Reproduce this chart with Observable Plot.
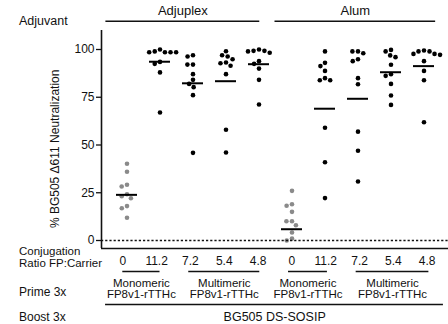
<!DOCTYPE html>
<html><head><meta charset="utf-8">
<script src="https://cdn.jsdelivr.net/npm/d3@7"></script>
<script src="https://cdn.jsdelivr.net/npm/@observablehq/plot@0.6"></script>
<style>
html,body{margin:0;padding:0;background:#fff;}
#chart{position:relative;width:448px;height:324px;}
#chart > svg{position:absolute;left:0;top:0;}
</style></head><body><div id="chart"></div>
<script>
// ---- data ----
const adjuvants = ["Adjuplex", "Alum"];
const ratios = ["0", "11.2", "7.2", "5.4", "4.8"];
const primeLabels = ["Monomeric", "Multimeric", "Monomeric", "Multimeric"];
const carrierLabel = "FP8v1-rTTHc";
const boostLabel = "BG505 DS-SOSIP";

const adjuplex_0   = [40.2, 36.0, 29.2, 28.3, 24.2, 23.2, 22.1, 18.0, 16.9, 11.9];
const adjuplex_112 = [100, 99, 98.6, 98.6, 98.6, 98.6, 93.5, 92.5, 88, 67];
const adjuplex_72  = [97, 96.3, 92.1, 92.1, 87.1, 84.1, 82.0, 80.3, 76.1, 45.9];
const adjuplex_54  = [99.1, 97, 96.3, 94.9, 93.2, 92.8, 91.5, 87.1, 58, 46.1];
const adjuplex_48  = [100, 99.3, 99.3, 99, 98.3, 93.9, 92.5, 90, 84.1, 71.2];
const alum_0       = [26, 19, 18.2, 15, 10.1, 10.1, 8, 4.2, 1, 0];
const alum_112     = [99, 93, 91.3, 88.8, 85, 83.9, 83.9, 59, 41, 22.2];
const alum_72      = [99, 99, 98, 94.9, 93.9, 85, 81.8, 57, 47, 30.9];
const alum_54      = [99.8, 99, 96.9, 96, 92, 87.1, 86.2, 82, 75.9, 71];
const alum_48      = [99.5, 99, 99, 97.7, 97.7, 97.2, 93.9, 88.8, 83.9, 61.9];
const groupMeans   = [23.9, 93.6, 82.3, 83.4, 92.3, 5.9, 69.0, 74.2, 88.1, 91.3];

const series = [adjuplex_0, adjuplex_112, adjuplex_72, adjuplex_54, adjuplex_48,
                alum_0, alum_112, alum_72, alum_54, alum_48];

// ---- tables built from the arrays ----
const groups = series.map((vals, i) => ({
  id: i, adjuvant: adjuvants[Math.floor(i / 5)], ratio: ratios[i % 5],
  values: vals, mean: groupMeans[i]
}));
const points = groups.flatMap(g => g.values.map(v => ({g: g.id, v, control: g.ratio === "0"})));

// ---- layout ----
const W = 448, H = 324;
const margins = {marginTop: 30, marginRight: 0, marginBottom: 76, marginLeft: 101};
const yDomain = [-4.19, 109.95];
const xDomain = [-0.63, 9.63];
const font = "'Liberation Sans', Arial, Helvetica, sans-serif";
const leftX = -3.07;

const dotsPlot = Plot.plot({
  width: W, height: H, ...margins,
  style: {background: "transparent", fontFamily: font, overflow: "visible"},
  fx: {domain: d3.range(10), paddingInner: 0, paddingOuter: 0.13, axis: null},
  y: {domain: yDomain, axis: null},
  marks: [
    Plot.dot(points, Plot.dodgeX("middle", {
      fx: "g", y: "v", r: 2.3, padding: 1.0,
      fill: d => d.control ? "#8a8a8a" : "#000", stroke: "none"
    })),
    Plot.tickY(groups, {fx: "id", y: "mean", stroke: "#000", strokeWidth: 2, insetLeft: 6, insetRight: 6})
  ]
});

const headerRows = adjuvants.map((a, i) => ({name: a, x1: i === 0 ? -0.5 : 4.5, x2: i === 0 ? 4.05 : 9.25}));
const primeRows = primeLabels.map((p, i) => {
  const spans = [[0, 1.1], [1.95, 4.05], [4.9, 6.05], [6.9, 9.05]];
  return {name: p, x1: spans[i][0], x2: spans[i][1], mid: (spans[i][0] + spans[i][1]) / 2};
});

const annoPlot = Plot.plot({
  width: W, height: H, ...margins,
  style: {background: "transparent", fontFamily: font, overflow: "visible", color: "#111"},
  x: {domain: xDomain, axis: null},
  y: {domain: yDomain, axis: null},
  marks: [
    Plot.axisY([0, 25, 50, 75, 100], {tickSize: 5, tickPadding: 2, fontSize: 12, label: null, strokeWidth: 1.3}),
    Plot.ruleY([0], {strokeDasharray: "2.2,2", strokeWidth: 1.3}),
    Plot.ruleX([xDomain[0]], {strokeWidth: 1.6}),
    Plot.ruleY([yDomain[0]], {strokeWidth: 1.6}),
    Plot.text(["% BG505 \u0394611 Neutralization"], {x: -1.99, y: 48, rotate: -90, fontSize: 12}),
    // top header
    Plot.text(["Adjuvant"], {x: leftX, y: 114.9, textAnchor: "start", fontSize: 12.5}),
    Plot.text(headerRows, {x: d => (d.x1 + d.x2) / 2, y: 120.3, text: "name", fontSize: 13}),
    Plot.ruleY(headerRows, {x1: "x1", x2: "x2", y: 114.8, strokeWidth: 1.5}),
    // bottom annotations
    Plot.text(["Conjugation"], {x: leftX, y: -5.7, textAnchor: "start", fontSize: 11.5}),
    Plot.text(["Ratio FP:Carrier"], {x: leftX, y: -12.1, textAnchor: "start", fontSize: 11.5}),
    Plot.text(groups, {x: "id", y: -11.0, text: "ratio", fontSize: 12}),
    Plot.ruleY(primeRows, {x1: "x1", x2: "x2", y: -16.2, strokeWidth: 1.5}),
    Plot.text(primeRows, {x: "mid", y: -22.4, text: "name", fontSize: 11.5}),
    Plot.text(primeRows, {x: "mid", y: -28.3, text: () => carrierLabel, fontSize: 11.5}),
    Plot.text(["Prime 3x"], {x: leftX, y: -27.2, textAnchor: "start", fontSize: 12}),
    Plot.ruleY([-33.5], {x1: -0.51, x2: 9.48, strokeWidth: 1.5}),
    Plot.text(["Boost 3x"], {x: leftX, y: -40.2, textAnchor: "start", fontSize: 12}),
    Plot.text([boostLabel], {x: 4.49, y: -40.2, fontSize: 12.5})
  ]
});

const chart = document.getElementById("chart");
chart.appendChild(dotsPlot);
chart.appendChild(annoPlot);
</script></body></html>
